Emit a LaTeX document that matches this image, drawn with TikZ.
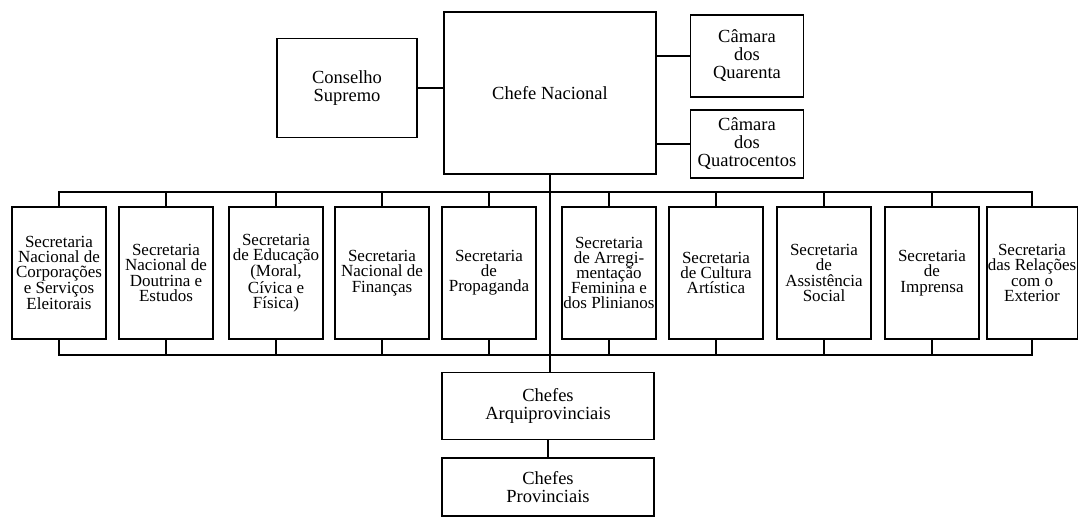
\documentclass[tikz,border=0pt]{standalone}
\usepackage{fontspec}
\setmainfont{Liberation Serif}
\usepackage{tikz}
\usetikzlibrary{positioning}

\begin{document}
\begin{tikzpicture}[x=1pt, y=-1pt, line width=1.3pt,
  box/.style={draw, line width=1.3pt, align=center, inner sep=1pt},
  small text/.style={font=\fontsize{17}{15.2}\selectfont},
  big text/.style={font=\fontsize{18.5}{18}\selectfont}]

\useasboundingbox (0,0) rectangle (1078,518);

\node [box, big text, minimum width=212, minimum height=162] (chefe) at (550,93) {Chefe Nacional};
\node [box, big text, minimum width=140, minimum height=99] (conselho) at (347,88) {Conselho\\Supremo};
\node [box, big text, minimum width=113, minimum height=82] (quarenta) at (747,56) {Câmara\\dos\\Quarenta};
\node [box, big text, minimum width=113, minimum height=68] (quatrocentos) at (747,144) {Câmara\\dos\\Quatrocentos};

\foreach \x/\w/\l [count=\i] in {
    59/94/{Secretaria\\Nacional de\\Corporações\\e Serviços\\Eleitorais},
    166/94/{Secretaria\\Nacional de\\Doutrina e\\Estudos},
    276/94/{Secretaria\\de Educação\\(Moral,\\Cívica e\\Física)},
    382/94/{Secretaria\\Nacional de\\Finanças},
    489/94/{Secretaria\\de\\Propaganda},
    609/94/{Secretaria\\de Arregi-\\mentação\\Feminina e\\dos Plinianos},
    716/94/{Secretaria\\de Cultura\\Artística},
    824/94/{Secretaria\\de\\Assistência\\Social},
    932/94/{Secretaria\\de\\Imprensa},
    1032/88/{Secretaria\\das Relações\\com o\\Exterior}}
  \node [box, small text, minimum width=\w, minimum height=132] (sec-\i) at (\x,273) {\l};

\node [box, big text, minimum width=212, minimum height=67] (arqui) at (548,406) {Chefes\\Arquiprovinciais};
\node [box, big text, minimum width=212, minimum height=58] (prov) at (548,487) {Chefes\\Provinciais};

\coordinate (top bus) at (0,192);
\coordinate (bottom bus) at (0,355);

\draw (conselho.east) -- (conselho.east -| chefe.west);
\draw (quarenta.west) -- (quarenta.west -| chefe.east);
\draw (quatrocentos.west) -- (quatrocentos.west -| chefe.east);

\draw (sec-1.north) |- (top bus -| sec-10.north) -- (sec-10.north);
\draw (sec-1.south) |- (bottom bus -| sec-10.south) -- (sec-10.south);
\foreach \i in {2,...,9} {
  \draw (sec-\i.north) -- (sec-\i.north |- top bus);
  \draw (sec-\i.south) -- (sec-\i.south |- bottom bus);
}

\draw (chefe.south) -- (chefe.south |- arqui.north);
\draw (arqui.south) -- (prov.north);
\end{tikzpicture}
\end{document}
